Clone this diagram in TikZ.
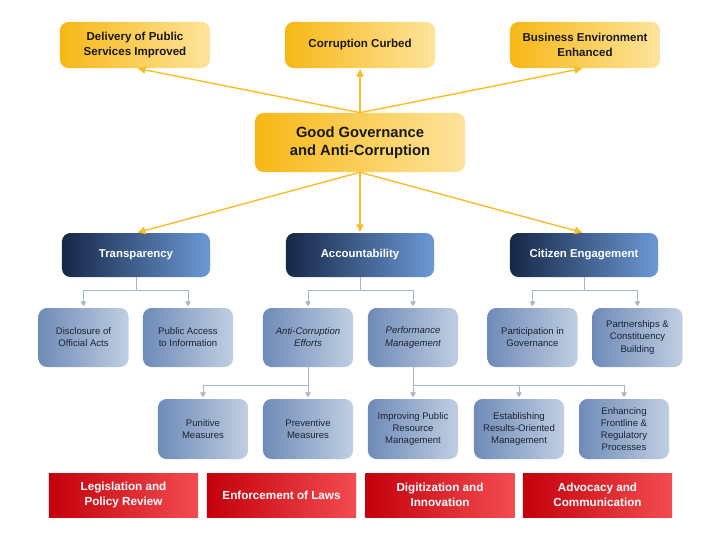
\documentclass[tikz,border=0pt]{standalone}
\usepackage{fontspec}
\setmainfont{Liberation Sans}
\usetikzlibrary{arrows.meta}

\definecolor{goldL}{RGB}{247,184,22}
\definecolor{goldR}{RGB}{253,228,156}
\definecolor{navyL}{RGB}{22,40,72}
\definecolor{navyR}{RGB}{108,152,212}
\definecolor{steelL}{RGB}{110,139,184}
\definecolor{steelR}{RGB}{192,206,225}
\definecolor{redL}{RGB}{196,0,12}
\definecolor{redR}{RGB}{243,76,80}
\definecolor{goldline}{RGB}{245,190,40}
\definecolor{greyline}{RGB}{168,181,198}
\definecolor{inkblue}{RGB}{28,36,52}

\begin{document}
\begin{tikzpicture}[x=0.025cm, y=-0.025cm,
    goal/.style={left color=goldL, right color=goldR, rounded corners=6pt,
      minimum width=3.75cm, minimum height=1.15cm, inner sep=0pt, align=center,
      text=black!90, font=\fontsize{8.2}{10.5}\selectfont\bfseries},
    pillar/.style={left color=navyL, right color=navyR, rounded corners=6pt,
      minimum width=3.7cm, minimum height=1.1cm, inner sep=0pt, align=center,
      text=white, font=\fontsize{8.1}{10}\selectfont\bfseries},
    measure/.style={left color=steelL, right color=steelR, rounded corners=6pt,
      minimum width=2.25cm, minimum height=1.475cm, inner sep=0pt, align=center,
      text=inkblue, font=\fontsize{6.8}{8.6}\selectfont},
    tool/.style={left color=redL, right color=redR,
      minimum width=3.725cm, minimum height=1.1cm, inner sep=0pt, align=center,
      text=white, font=\fontsize{8.3}{11}\selectfont\bfseries},
    impact/.style={draw=goldline, line width=1pt, -{Latex[length=6pt,width=6pt]}},
    link/.style={draw=greyline, line width=0.6pt, -{Triangle[length=3.5pt,width=4pt]}, shorten >=1pt}]
  \useasboundingbox (0,0) rectangle (720,540);

  % outcomes
  \node[goal] (deliv) at (135,45) {Delivery of Public\\Services Improved};
  \node[goal] (curbed) at (360,45) {Corruption Curbed};
  \node[goal] (busenv) at (585,45) {Business Environment\\Enhanced};

  \node[goal, minimum width=5.25cm, minimum height=1.475cm,
    font=\fontsize{10.5}{13}\selectfont\bfseries] (ggac) at (360,142.5)
    {Good Governance\\and Anti-Corruption};

  % pillars
  \node[pillar] (transp) at (136,255) {Transparency};
  \node[pillar] (account) at (360,255) {Accountability};
  \node[pillar] (citizen) at (584,255) {Citizen Engagement};

  % measures
  \node[measure] (disclose) at (83.5,337.5) {Disclosure of\\Official Acts};
  \node[measure] (pubacc) at (188,337.5) {Public Access\\to Information};
  \node[measure, font=\fontsize{6.8}{8.6}\selectfont\itshape] (anticorr) at (308,337.5) {Anti-Corruption\\Efforts};
  \node[measure, font=\fontsize{6.8}{8.6}\selectfont\itshape] (perform) at (413,337.5) {Performance\\Management};
  \node[measure] (particip) at (532.5,337.5) {Participation in\\Governance};
  \node[measure] (partner) at (637.5,337.5) {Partnerships \&\\Constituency\\Building};

  \node[measure, minimum height=1.5cm] (punitive) at (203,429) {Punitive\\Measures};
  \node[measure, minimum height=1.5cm] (prevent) at (308,429) {Preventive\\Measures};
  \node[measure, minimum height=1.5cm] (resource) at (413,429) {Improving Public\\Resource\\Management};
  \node[measure, minimum height=1.5cm] (results) at (519,429) {Establishing\\Results-Oriented\\Management};
  \node[measure, minimum height=1.5cm] (frontline) at (624,429) {Enhancing\\Frontline \&\\Regulatory\\Processes};

  % tools
  \node[tool] (legis) at (123.5,495) {Legislation and\\Policy Review};
  \node[tool] (enforce) at (281.5,495) {Enforcement of Laws};
  \node[tool] (digit) at (440,495) {Digitization and\\Innovation};
  \node[tool] (advoc) at (597.5,495) {Advocacy and\\Communication};

  % connectors
  \draw[impact] (ggac.north) -- ([xshift=1.4pt]deliv.south);
  \draw[impact] (ggac.north) -- (curbed.south);
  \draw[impact] (ggac.north) -- ([xshift=-1.4pt]busenv.south);
  \draw[impact] (ggac.south) -- ([xshift=0.7pt]transp.north);
  \draw[impact] (ggac.south) -- (account.north);
  \draw[impact] (ggac.south) -- ([xshift=-0.7pt]citizen.north);

  \draw[link] (transp.south) -- ++(0,13) -| (disclose.north);
  \draw[link] (transp.south) -- ++(0,13) -| (pubacc.north);
  \draw[link] (account.south) -- ++(0,13) -| (anticorr.north);
  \draw[link] (account.south) -- ++(0,13) -| (perform.north);
  \draw[link] (citizen.south) -- ++(0,13) -| (particip.north);
  \draw[link] (citizen.south) -- ++(0,13) -| (partner.north);

  \draw[link] (anticorr.south) -- ++(0,18) -| (punitive.north);
  \draw[link] (anticorr.south) -- (prevent.north);
  \draw[link] (perform.south) -- (resource.north);
  \draw[link] (perform.south) -- ++(0,18) -| (results.north);
  \draw[link] (perform.south) -- ++(0,18) -| (frontline.north);
\end{tikzpicture}
\end{document}
